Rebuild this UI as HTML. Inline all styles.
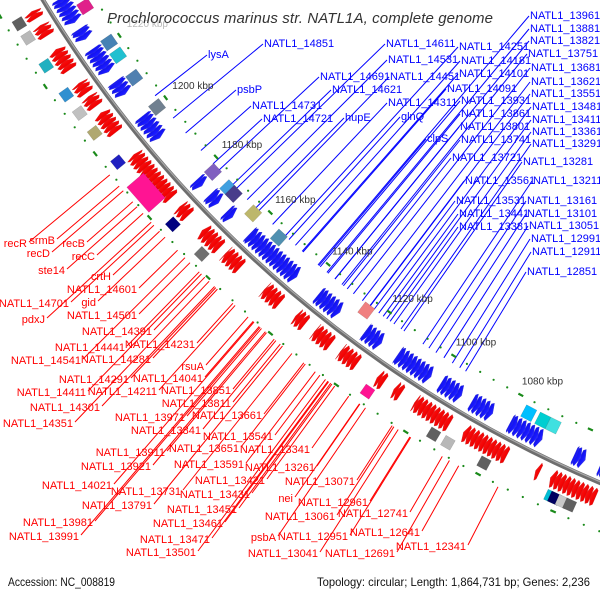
<!DOCTYPE html>
<html><head><meta charset="utf-8"><style>
html,body{margin:0;padding:0;background:#fff;}
svg{display:block;font-family:"Liberation Sans",sans-serif;}
</style></head><body>
<svg id="map" width="600" height="600" viewBox="0 0 600 600" xmlns="http://www.w3.org/2000/svg">
<defs>
<linearGradient id="gb" x1="0" y1="0" x2="1" y2="1"><stop offset="0" stop-color="#0000c8"/><stop offset="0.6" stop-color="#1a1aff"/><stop offset="1" stop-color="#6a6aff"/></linearGradient>
<linearGradient id="gr" x1="0" y1="0" x2="1" y2="1"><stop offset="0" stop-color="#ff2020"/><stop offset="0.6" stop-color="#f00000"/><stop offset="1" stop-color="#ff7070"/></linearGradient>
</defs>
<rect width="600" height="600" fill="#fff"/>
<g id="lines"></g>
<g id="rings"></g>
<g id="feats"></g>
<g id="bb"></g>
<g id="ticklabels"></g>
<g id="labels"></g>
<text x="107" y="23" font-size="15" font-style="italic" fill="#333" textLength="386" lengthAdjust="spacing">Prochlorococcus marinus str. NATL1A, complete genome</text>
<text x="8" y="586" font-size="12" fill="#111" textLength="107" lengthAdjust="spacingAndGlyphs">Accession: NC_008819</text>
<text x="317" y="586" font-size="12" fill="#111" textLength="273" lengthAdjust="spacingAndGlyphs">Topology: circular; Length: 1,864,731 bp; Genes: 2,236</text>
</svg>
<script>
// ---- data ----
const tickKbp = [1220,1200,1180,1160,1140,1120,1100,1080];
const blueClusters = [[1229,1236],[1224,1227],[1214,1221],[1207,1211],[1193,1200],[1177,1179],[1171,1174],[1166,1168],[1144,1160],[1130,1137],[1117,1122],[1102,1112],[1093,1099],[1084,1090],[1070,1079],[1058,1061],[1052,1054]];
const redClusters = [[1235,1237],[1230,1233],[1220,1226],[1213,1216],[1209,1212],[1201,1207],[1180,1194],[1174,1177],[1163,1169],[1156,1161],[1143,1148],[1135,1138],[1127,1132],[1119,1124],[1111,1113],[1106,1108],[1092,1102],[1076,1088],[1067,1068],[1052,1064]];
const blueBoxKbp = [1231,1220,1216,1209,1199.5,1177.7,1172,1170,1163,1154,1125,1076,1072,1069];
const blueBoxColor = ['#e0208a','#4682b4','#20c0d0','#5080b0','#708090','#8060c0','#40a0e0','#483d8b','#bdb76b','#5090b0','#f08080','#00bfff','#00ced1','#40e0e0'];
const redBoxKbp = [1236,1232,1224,1215.5,1210,1204,1195,1185,1175,1165,1113,1094,1090,1080,1062,1061,1059,1057];
const redBoxColor = ['#606060','#b8b8b8','#20b0c0','#3090d0','#c0c0c0','#b0a870','#2020c0','#ff1493','#000080','#707070','#ff1493','#606060','#b8b8b8','#606060','#00bcd4','#000060','#c8c8c8','#606060'];
const blueLabels = [["NATL1_13961",530,19],["NATL1_13881",530,32],["NATL1_13821",530,44],["NATL1_13751",528,57],["NATL1_13681",531,71],["NATL1_13621",531,85],["NATL1_13551",531,97],["NATL1_13481",532,110],["NATL1_13411",532,123],["NATL1_13361",532,135],["NATL1_13291",532,147],["NATL1_13281",523,165],["NATL1_13211",533,184],["NATL1_13161",527,204],["NATL1_13101",527,217],["NATL1_13051",529,229],["NATL1_12991",531,242],["NATL1_12911",532,255],["NATL1_12851",527,275],
["NATL1_14251",459,50],["NATL1_14181",461,64],["NATL1_14101",459,77],["NATL1_14091",447,92],["NATL1_13931",461,104],["NATL1_13861",461,117],["NATL1_13801",460,130],["NATL1_13741",461,143],["NATL1_13721",452,161],["NATL1_13561",465,184],["NATL1_13531",456,204],["NATL1_13441",459,217],["NATL1_13381",459,230],
["NATL1_14611",386,47],["NATL1_14531",388,63],["NATL1_14451",390,80],["NATL1_14691",320,80],["NATL1_14621",332,93],["NATL1_14311",388,106],["glnQ",401,120],["hupE",345,121],["clpS",427,142],["NATL1_14851",264,47],["NATL1_14731",252,109],["NATL1_14721",263,122],["lysA",208,58],["psbP",237,93]];
const redLabels = [["recR",27,247],["srmB",55,244],["recB",85,247],["recD",50,257],["recC",95,260],["ste14",65,274],["crtH",111,280],["NATL1_14601",137,293],["NATL1_14701",69,307],["gid",96,306],["pdxJ",45,323],["NATL1_14501",137,319],
["NATL1_14391",152,335],["NATL1_14441",125,351],["NATL1_14231",195,348],["NATL1_14541",81,364],["NATL1_14281",151,363],["rsuA",204,370],["NATL1_14291",129,383],["NATL1_14041",203,382],["NATL1_14411",86,396],["NATL1_14211",157,395],["NATL1_13851",231,394],["NATL1_14301",100,411],["NATL1_13811",231,407],["NATL1_14351",73,427],["NATL1_13971",185,421],["NATL1_13661",262,419],["NATL1_13841",201,434],["NATL1_13541",273,440],["NATL1_13911",165,456],["NATL1_13651",239,452],["NATL1_13341",310,453],["NATL1_13921",151,470],["NATL1_13591",244,468],["NATL1_13261",315,471],["NATL1_14021",112,489],["NATL1_13731",181,495],["NATL1_13421",265,484],["NATL1_13431",250,498],["nei",293,502],["NATL1_13791",152,509],["NATL1_13451",237,513],["NATL1_13981",93,526],["NATL1_13461",223,527],["NATL1_13991",79,540],["NATL1_13471",210,543],["NATL1_13501",196,556],["psbA",276,541],
["NATL1_13071",355,485],["NATL1_12961",368,506],["NATL1_13061",335,520],["NATL1_12741",408,517],["NATL1_12951",348,540],["NATL1_12641",420,536],["NATL1_13041",318,557],["NATL1_12691",395,557],["NATL1_12341",466,550]];

// ---- geometry ----
const CX=1068, CY=-620, DEG=0.19306;
const NS="http://www.w3.org/2000/svg";
function ang(k){return (141.5+(k-1200)*DEG)*Math.PI/180;}
function pt(r,k){const t=ang(k);return [CX+r*Math.cos(t),CY+r*Math.sin(t)];}
function mk(tag,parent,attrs){const e=document.createElementNS(NS,tag);for(const a in attrs)e.setAttribute(a,attrs[a]);parent.appendChild(e);return e;}
const P=a=>a[0].toFixed(1)+","+a[1].toFixed(1);

// label lines
const gL=document.getElementById('lines');
function ringPoint(x,y,r){const dx=x-CX,dy=y-CY,d=Math.hypot(dx,dy);return [CX+dx/d*r,CY+dy/d*r];}
blueLabels.forEach(l=>{const a=[l[1]-1,l[2]-3];const b=ringPoint(a[0],a[1],1160);
 const e=mk('line',gL,{x1:a[0],y1:a[1],x2:b[0].toFixed(1),y2:b[1].toFixed(1),stroke:'#0000ff','stroke-width':1});
 
 });
redLabels.forEach(l=>{const a=[l[1]+2,l[2]-5];const b=ringPoint(a[0],a[1],1245);
 const e=mk('line',gL,{x1:a[0],y1:a[1],x2:b[0].toFixed(1),y2:b[1].toFixed(1),stroke:'#ff0000','stroke-width':1});
 
 });

// tick rings
const gR=document.getElementById('rings');
[1153,1243].forEach(r=>{
 for(let k=1040;k<=1248;k+=4){
  const major=(k%20===0);
  if(major){
   const a=pt(r,k-0.7),b=pt(r,k+0.7);
   const e=mk('line',gR,{x1:a[0].toFixed(1),y1:a[1].toFixed(1),x2:b[0].toFixed(1),y2:b[1].toFixed(1),stroke:'#1a8a1a','stroke-width':2.2});
   
   
  } else {
   const c=pt(r,k);
   const e=mk('circle',gR,{cx:c[0].toFixed(1),cy:c[1].toFixed(1),r:1.1,fill:'#1a8a1a'});
   
   
  }
 }});

// features
const gF=document.getElementById('feats');
function sector(k1,k2,r1,r2,fill,name){
 const p=[pt(r1,k1),pt(r2,k1),pt(r2,k2),pt(r1,k2)];
 const e=mk('polygon',gF,{points:p.map(P).join(' '),fill:fill,stroke:'rgba(0,0,0,0.2)','stroke-width':0.5});
 
 
}
function arrow(k1,k2,r1,r2,dir,fill,stroke,name){
 const rm=(r1+r2)/2, head=(k2-k1)*0.6;
 let p;
 if(dir<0) p=[pt(r1,k2),pt(r2,k2),pt(r2+2,k1+head),pt(rm,k1),pt(r1-2,k1+head)];
 else p=[pt(r1,k1),pt(r2,k1),pt(r2+2,k2-head),pt(rm,k2),pt(r1-2,k2-head)];
 const e=mk('polygon',gF,{points:p.map(P).join(' '),fill:fill,stroke:stroke,'stroke-width':0.4});
 
 
}
blueClusters.forEach(c=>{
 for(let k=c[0];k<c[1];k+=1.2){arrow(k,Math.min(k+1.4,c[1]),1175,1191,-1,'url(#gb)','#3030d0','blue-gene');}
});
redClusters.forEach(c=>{
 for(let k=c[0];k<c[1];k+=1.2){arrow(k,Math.min(k+1.4,c[1]),1206,1221,1,'url(#gr)','#d02020','red-gene');}
});
blueBoxKbp.forEach((k,i)=>sector(k-1.5,k+1.5,1159,1172,blueBoxColor[i],'blue-side-box'));
redBoxKbp.forEach((k,i)=>{const big=(k===1185);sector(k-(big?4:1.3),k+(big?4:1.3),big?1218:1225,big?1240:1236,redBoxColor[i],'red-side-box');});

// backbone
const gB=document.getElementById('bb');
const s=pt(1198,1250),e2=pt(1198,1035);
let bp=mk('path',gB,{d:`M${P(s)} A1198,1198 0 0 0 ${P(e2)}`,fill:'none',stroke:'#6e6e6e','stroke-width':4.5});


let bp2=mk('path',gB,{d:`M${P(pt(1197,1250))} A1197,1197 0 0 0 ${P(pt(1197,1035))}`,fill:'none',stroke:'#a8a8a8','stroke-width':1.2});



// tick labels
const gT=document.getElementById('ticklabels');
tickKbp.forEach(k=>{const p=pt(1140,k+1.5);
 const t=mk('text',gT,{x:p[0].toFixed(1),y:(p[1]+4).toFixed(1),'font-size':10,fill:k===1220?'#bbb':'#333'});
 t.textContent=k+' kbp';
 
 });

// gene labels
const gG=document.getElementById('labels');
blueLabels.forEach(l=>{const t=mk('text',gG,{x:l[1],y:l[2],'font-size':11,fill:'#0000ff'});t.textContent=l[0];
 
 });
redLabels.forEach(l=>{const t=mk('text',gG,{x:l[1],y:l[2],'font-size':11,fill:'#ff0000','text-anchor':'end'});t.textContent=l[0];
 
 });
</script>
</body></html>
